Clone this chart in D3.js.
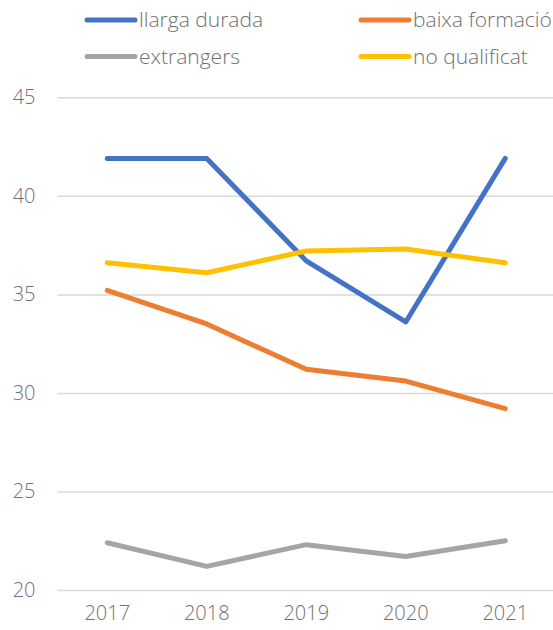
<!DOCTYPE html>
<html>
<head>
<meta charset="utf-8">
<script src="https://cdn.jsdelivr.net/npm/d3@7"></script>
<style>
    body { margin: 0; background: #fff; }
    #chart { width: 553px; height: 630px; }
    text { font-family: "Open Sans", sans-serif; font-weight: 300; fill: #707070; }
</style>
</head>
<body>
<div id="chart"></div>
<script>
// chart data
const years = ["2017", "2018", "2019", "2020", "2021"];
const llargaDurada = [41.9, 41.9, 36.7, 33.6, 41.9];
const baixaFormacio = [35.2, 33.5, 31.2, 30.6, 29.2];
const extrangers = [22.4, 21.2, 22.3, 21.7, 22.5];
const noQualificat = [36.6, 36.1, 37.2, 37.3, 36.6];
const yTicks = [20, 25, 30, 35, 40, 45];

const series = [
    {name: "llarga durada", values: llargaDurada, color: "#4472C4"},
    {name: "baixa formació", values: baixaFormacio, color: "#ED7D31"},
    {name: "extrangers", values: extrangers, color: "#A5A5A5"},
    {name: "no qualificat", values: noQualificat, color: "#FFC000"}
];

const width = 553, height = 630;

let svg = d3.select("#chart").append("svg")
    .attr("width", width)
    .attr("height", height);

let x = d3.scaleBand()
    .domain(years)
    .range([57.5, 555]);

let y = d3.scaleLinear()
    .domain([20, 45])
    .range([590, 97.3]);

// gridlines + y labels
let yAxis = svg.append("g")
    .attr("transform", "translate(57.5,0)")
    .call(d3.axisLeft(y).tickValues(yTicks).tickSize(-(555 - 57.5)).tickPadding(22));

yAxis.select(".domain").remove();
yAxis.selectAll(".tick line")
    .attr("stroke", "#d9d9d9")
    .attr("stroke-width", 1.5);
yAxis.selectAll(".tick text")
    .style("font-size", "20px")
    .attr("fill", "#707070");

// x labels
let xAxis = svg.append("g")
    .attr("transform", "translate(0,590)")
    .call(d3.axisBottom(x).tickSize(0).tickPadding(16));

xAxis.select(".domain").remove();
xAxis.selectAll(".tick text")
    .style("font-size", "20px")
    .attr("fill", "#707070");

// lines
let line = d3.line()
    .x((d, i) => x(years[i]) + x.bandwidth() / 2)
    .y(d => y(d));

series.forEach(s => {
    svg.append("path")
        .datum(s.values)
        .attr("fill", "none")
        .attr("stroke", s.color)
        .attr("stroke-width", 5)
        .attr("stroke-linejoin", "round")
        .attr("stroke-linecap", "round")
        .attr("d", line);
});

// legend
let legendPos = [
    {x: 87, y: 20},
    {x: 361, y: 20},
    {x: 87, y: 56.5},
    {x: 361, y: 56.5}
];

let legend = svg.append("g").attr("class", "legend");

series.forEach((s, i) => {
    let p = legendPos[i];
    let g = legend.append("g")
        .attr("transform", `translate(${p.x}, ${p.y})`);

    g.append("line")
        .attr("x1", 0)
        .attr("x2", 48)
        .attr("stroke", s.color)
        .attr("stroke-width", 5)
        .attr("stroke-linecap", "round");

    g.append("text")
        .attr("x", 52)
        .attr("dy", "0.35em")
        .style("font-size", "21px")
        .text(s.name);
});
</script>
</body>
</html>
